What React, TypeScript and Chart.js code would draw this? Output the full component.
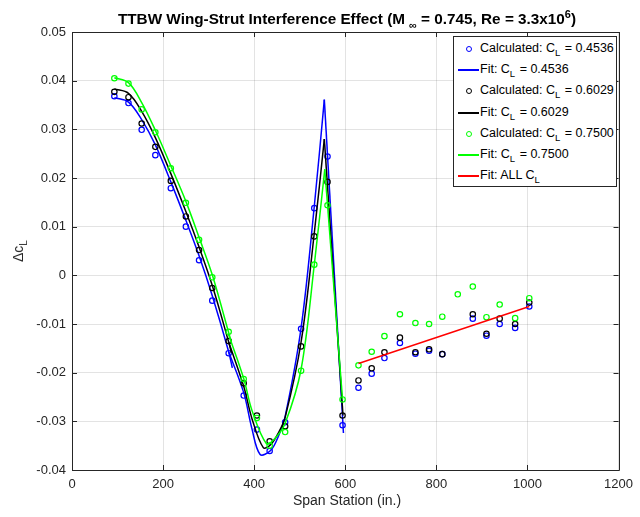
import React, { useEffect, useRef } from "react";
import { Chart, registerables } from "chart.js";

Chart.register(...registerables);

// ---- Data ----
const inboardStations = [93, 124, 153, 183, 217, 250, 279, 308, 344, 377, 406, 434, 468, 503, 532, 561, 594];
const inboardBlue = [0.0368, 0.0354, 0.0299, 0.0247, 0.0179, 0.0100, 0.0031, -0.0052, -0.0160, -0.0247, -0.0317, -0.0361, -0.0302, -0.0110, 0.0138, 0.0244, -0.0308];
const inboardBlack = [0.0377, 0.0366, 0.0312, 0.0264, 0.0194, 0.0121, 0.0052, -0.0026, -0.0135, -0.0222, -0.0288, -0.0341, -0.0310, -0.0146, 0.0080, 0.0192, -0.0288];
const inboardGreen = [0.0405, 0.0394, 0.0341, 0.0294, 0.0220, 0.0149, 0.0073, -0.0004, -0.0116, -0.0213, -0.0293, -0.0350, -0.0322, -0.0196, 0.0022, 0.0144, -0.0255];

const outboardStations = [629, 658, 686, 720, 754, 784, 813, 847, 880, 910, 939, 973, 1004];
const outboardBlue = [-0.0231, -0.0202, -0.0170, -0.0139, -0.0161, -0.0155, -0.0162, null, -0.0089, -0.0124, -0.0100, -0.0108, -0.0064];
const outboardBlack = [-0.0216, -0.0191, -0.0158, -0.0128, -0.0158, -0.0152, -0.0162, null, -0.0080, -0.0120, -0.0089, -0.0100, -0.0056];
const outboardGreen = [-0.0185, -0.0157, -0.0125, -0.0080, -0.0098, -0.0100, -0.0085, -0.0039, -0.0023, -0.0086, -0.0060, -0.0088, -0.0047];

// Fit curves, in three pieces each
const fit1X = [93, 124, 153, 183, 217, 250, 279, 308, 344];
const fitBlue1Y = [0.0365, 0.0356, 0.0320, 0.0268, 0.0192, 0.0113, 0.0040, -0.0042, -0.0157];
const fitBlack1Y = [0.0383, 0.0374, 0.0337, 0.0283, 0.0209, 0.0131, 0.0058, -0.0021, -0.0137];
const fitGreen1Y = [0.0406, 0.0396, 0.0355, 0.0298, 0.0225, 0.0152, 0.0078, 0.0001, -0.0118];
const fitBlue1EndX = 352, fitBlue1EndY = -0.0190;
const fitBlack1EndX = 350, fitBlack1EndY = -0.0159;
const fitGreen1EndX = 350, fitGreen1EndY = -0.0137;

const fitBlue2X = [344, 377, 395, 413, 436, 453, 468, 503, 532, 554];
const fitBlue2Y = [-0.0157, -0.0241, -0.0315, -0.0368, -0.0360, -0.0331, -0.0290, -0.0108, 0.0142, 0.0361];
const fitBlack2X = [344, 377, 395, 420, 436, 453, 468, 503, 532, 554];
const fitBlack2Y = [-0.0137, -0.0228, -0.0294, -0.0354, -0.0348, -0.0324, -0.0292, -0.0137, 0.0087, 0.0280];
const fitGreen2X = [344, 377, 395, 427, 445, 468, 503, 532, 555];
const fitGreen2Y = [-0.0122, -0.0212, -0.0277, -0.0346, -0.0336, -0.0304, -0.0193, 0.0022, 0.0218];

const fitBlue3X = [554, 596];
const fitBlue3Y = [0.0361, -0.0324];
const fitBlack3X = [554, 595];
const fitBlack3Y = [0.0280, -0.0288];
const fitGreen3X = [555, 594];
const fitGreen3Y = [0.0218, -0.0255];

const fitAllX = [629, 1004];
const fitAllY = [-0.0181, -0.0064];

const xTicks = [0, 200, 400, 600, 800, 1000, 1200];
const yTicks = [0.05, 0.04, 0.03, 0.02, 0.01, 0, -0.01, -0.02, -0.03, -0.04];

const legendLabels = [
  { kind: "marker", color: "#0000ff", pre: "Calculated: C", sub: "L", post: " = 0.4536" },
  { kind: "line", color: "#0000ff", pre: "Fit: C", sub: "L", post: " = 0.4536" },
  { kind: "marker", color: "#000000", pre: "Calculated: C", sub: "L", post: " = 0.6029" },
  { kind: "line", color: "#000000", pre: "Fit: C", sub: "L", post: " = 0.6029" },
  { kind: "marker", color: "#00ff00", pre: "Calculated: C", sub: "L", post: " = 0.7500" },
  { kind: "line", color: "#00ff00", pre: "Fit: C", sub: "L", post: " = 0.7500" },
  { kind: "line", color: "#ff0000", pre: "Fit: ALL C", sub: "L", post: "" },
];

const FONT = '"Liberation Sans", Arial, Helvetica, sans-serif';
const AXIS_COLOR = "#262626";

function pts(xs: number[], ys: (number | null)[]) {
  const out: { x: number; y: number }[] = [];
  xs.forEach((x, i) => {
    const y = ys[i];
    if (y !== null && y !== undefined) out.push({ x, y });
  });
  return out;
}

function markers(xs: number[], ys: (number | null)[], color: string, order: number) {
  return {
    data: pts(xs, ys),
    showLine: false,
    pointStyle: "circle",
    pointRadius: 2.7,
    pointBorderWidth: 1.2,
    pointBorderColor: color,
    pointBackgroundColor: "rgba(0,0,0,0)",
    borderColor: color,
    order,
  };
}

function fit(xs: number[], ys: number[], color: string, order: number, smooth = true) {
  return {
    data: pts(xs, ys),
    showLine: true,
    pointRadius: 0,
    borderColor: color,
    borderWidth: 1.5,
    tension: smooth ? 0.35 : 0,
    fill: false,
    order,
  };
}

const framePlugin = {
  id: "frame",
  afterDraw(chart: any) {
    const { ctx, chartArea, scales } = chart;
    const { left, top, right, bottom } = chartArea;
    ctx.save();
    ctx.strokeStyle = AXIS_COLOR;
    ctx.lineWidth = 1;
    ctx.beginPath();
    ctx.rect(Math.round(left) + 0.5, Math.round(top) + 0.5, Math.round(right - left), Math.round(bottom - top));
    ctx.stroke();
    const tl = 5;
    ctx.beginPath();
    xTicks.forEach((v) => {
      const px = Math.round(scales.x.getPixelForValue(v)) + 0.5;
      ctx.moveTo(px, bottom);
      ctx.lineTo(px, bottom - tl);
      ctx.moveTo(px, top);
      ctx.lineTo(px, top + tl);
    });
    yTicks.forEach((v) => {
      const py = Math.round(scales.y.getPixelForValue(v)) + 0.5;
      ctx.moveTo(left, py);
      ctx.lineTo(left + tl, py);
      ctx.moveTo(right, py);
      ctx.lineTo(right - tl, py);
    });
    ctx.stroke();
    ctx.restore();
  },
};

export default function App() {
  const ref = useRef<HTMLCanvasElement>(null);

  useEffect(() => {
    if (!ref.current) return;
    const datasets: any[] = [
      markers(inboardStations, inboardBlue, "#0000ff", 20),
      markers(outboardStations, outboardBlue, "#0000ff", 20),
      fit([...fit1X, fitBlue1EndX], [...fitBlue1Y, fitBlue1EndY], "#0000ff", 19),
      fit(fitBlue2X, fitBlue2Y, "#0000ff", 19),
      fit(fitBlue3X, fitBlue3Y, "#0000ff", 19, false),
      markers(inboardStations, inboardBlack, "#000000", 18),
      markers(outboardStations, outboardBlack, "#000000", 18),
      fit([...fit1X, fitBlack1EndX], [...fitBlack1Y, fitBlack1EndY], "#000000", 17),
      fit(fitBlack2X, fitBlack2Y, "#000000", 17),
      fit(fitBlack3X, fitBlack3Y, "#000000", 17, false),
      markers(inboardStations, inboardGreen, "#00ff00", 16),
      markers(outboardStations, outboardGreen, "#00ff00", 16),
      fit([...fit1X, fitGreen1EndX], [...fitGreen1Y, fitGreen1EndY], "#00ff00", 15),
      fit(fitGreen2X, fitGreen2Y, "#00ff00", 15),
      fit(fitGreen3X, fitGreen3Y, "#00ff00", 15, false),
      fit(fitAllX, fitAllY, "#ff0000", 14, false),
    ];
    const chart = new Chart(ref.current, {
      type: "scatter",
      data: { datasets },
      plugins: [framePlugin],
      options: {
        animation: false,
        responsive: false,
        events: [],
        layout: { padding: { left: 0, top: 32, right: 18, bottom: 0 } },
        plugins: { legend: { display: false }, title: { display: false }, tooltip: { enabled: false } },
        scales: {
          x: {
            type: "linear",
            min: 0,
            max: 1200,
            afterBuildTicks: (s: any) => {
              s.ticks = xTicks.map((v) => ({ value: v }));
            },
            afterFit: (s: any) => {
              s.height = 47;
            },
            grid: { color: "rgba(38,38,38,0.13)", drawTicks: false, lineWidth: 1 },
            border: { display: false },
            ticks: {
              padding: 7,
              color: AXIS_COLOR,
              font: { family: FONT, size: 13 },
              maxRotation: 0,
              callback: (v: any) => String(v),
            },
          },
          y: {
            type: "linear",
            min: -0.04,
            max: 0.05,
            afterBuildTicks: (s: any) => {
              s.ticks = yTicks.map((v) => ({ value: v }));
            },
            afterFit: (s: any) => {
              s.width = 72;
            },
            grid: { color: "rgba(38,38,38,0.13)", drawTicks: false, lineWidth: 1 },
            border: { display: false },
            ticks: {
              padding: 6,
              color: AXIS_COLOR,
              font: { family: FONT, size: 13 },
              callback: (v: any) => {
                const r = Math.round(Number(v) * 100) / 100;
                return r === 0 ? "0" : r.toFixed(2);
              },
            },
          },
        },
      } as any,
    });
    return () => chart.destroy();
  }, []);

  return (
    <div style={{ position: "absolute", left: 0, top: 0, width: 640, height: 517, background: "#fff", fontFamily: FONT, color: AXIS_COLOR }}>
      <canvas ref={ref} width={640} height={517} style={{ position: "absolute", left: 0, top: 0, width: 640, height: 517 }} />
      <div
        style={{
          position: "absolute",
          left: 72,
          width: 550,
          top: 5,
          textAlign: "center",
          fontWeight: "bold",
          fontSize: 15.3,
          color: "#000",
          whiteSpace: "nowrap",
          lineHeight: "18px",
        }}
      >
        TTBW Wing-Strut Interference Effect (M
        <sub style={{ fontSize: 11, marginLeft: 4, verticalAlign: -5 }}>∞</sub> = 0.745, Re = 3.3x10
        <sup style={{ fontSize: 11, verticalAlign: 6 }}>6</sup>)
      </div>
      <div
        style={{
          position: "absolute",
          left: 72,
          width: 550,
          top: 491,
          textAlign: "center",
          fontSize: 14,
          lineHeight: "18px",
        }}
      >
        Span Station (in.)
      </div>
      <div
        style={{
          position: "absolute",
          left: 21,
          top: 251,
          transform: "translate(-50%, -50%) rotate(-90deg)",
          fontSize: 14,
          whiteSpace: "nowrap",
          lineHeight: "18px",
        }}
      >
        Δc<sub style={{ fontSize: 10, verticalAlign: -4 }}>L</sub>
      </div>
      <div
        style={{
          position: "absolute",
          left: 453,
          top: 36,
          width: 164,
          height: 151,
          background: "#fff",
          border: "1px solid #262626",
          boxSizing: "border-box",
        }}
      >
        {legendLabels.map((l, i) => {
          const cy = Math.round(12 + i * 21.2);
          return (
            <React.Fragment key={i}>
              {l.kind === "line" ? (
                <span style={{ position: "absolute", left: 4, top: cy - 1, width: 21, height: 1.6, background: l.color }} />
              ) : (
                <span
                  style={{
                    position: "absolute",
                    left: 12,
                    top: cy - 3,
                    width: 4,
                    height: 4,
                    borderRadius: "50%",
                    border: `1.2px solid ${l.color}`,
                  }}
                />
              )}
              <span
                style={{
                  position: "absolute",
                  left: 26,
                  top: cy - 8,
                  lineHeight: "15px",
                  fontSize: 12.5,
                  color: "#000",
                  whiteSpace: "nowrap",
                }}
              >
                {l.pre}
                <sub style={{ fontSize: 9.5, verticalAlign: -4, marginRight: 1 }}>{l.sub}</sub>
                {l.post}
              </span>
            </React.Fragment>
          );
        })}
      </div>
    </div>
  );
}
